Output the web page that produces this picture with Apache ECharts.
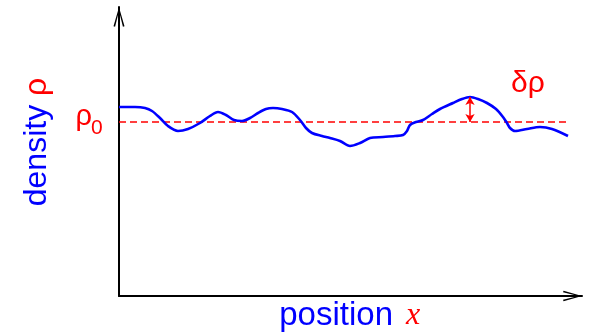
<!DOCTYPE html>
<html>
<head>
<meta charset="utf-8">
<script src="https://cdn.jsdelivr.net/npm/echarts@6/dist/echarts.min.js"></script>
<style>html,body{margin:0;padding:0;background:#fff}#c{width:590px;height:332px}</style>
</head>
<body>
<div id="c"></div>
<script>
// position values (x) and density values (y) (arbitrary units)
var positions = [0,16,26,33,41,49,59,69,81,91,99,107,115,123,131,139,147,154,163,173,181,187,193,203,211,221,231,241,251,264,276,284,288,291,297,304,313,321,334,343,351,359,368,377,384,388,391,396,408,421,433,449];
var density   = [189,189,188,185,178,170,165,167,173,180,184,181,176,175,178,183,187,188,187,184,176,168,163,160,158,155,150,153,158,159,160,161,165,171,174,176,182,187,193,197,199,197,193,187,179,173,168,165,167,169,167,160];
var rho0 = 174;          // reference density level
var refStart = 0, refEnd = 449;
var deltaX = 351;        // where the fluctuation arrow is drawn
var deltaTop = 199;
var xMax = 463, yMax = 289;

var chevron = 'path://M5,0 L10.6,19.4 L9.0,20 L5,4 L1.0,20 L-0.6,19.4 Z';

var chart = echarts.init(document.getElementById('c'));
chart.setOption({
  animation: false,
  grid: {left: 119, right: 8, top: 7, bottom: 36},
  xAxis: {
    type: 'value', min: 0, max: xMax,
    axisLine: {show: true, lineStyle: {color: '#000', width: 2}, symbol: ['none', chevron], symbolSize: [11, 19], symbolOffset: [0, -9.5]},
    axisTick: {show: false}, axisLabel: {show: false}, splitLine: {show: false}
  },
  yAxis: {
    type: 'value', min: 0, max: yMax,
    axisLine: {show: true, lineStyle: {color: '#000', width: 2}, symbol: ['none', chevron], symbolSize: [11, 20], symbolOffset: [0, -10]},
    axisTick: {show: false}, axisLabel: {show: false}, splitLine: {show: false}
  },
  series: [
    {
      type: 'line', silent: true, symbol: 'none',
      data: [[refStart, rho0], [refEnd, rho0]],
      lineStyle: {color: '#ff0000', width: 1.5, type: [7, 4]},
      markLine: {
        silent: true, symbol: ['arrow', 'arrow'], symbolSize: [7, 8],
        label: {show: false},
        lineStyle: {color: '#ff0000', width: 1.5, type: 'solid'},
        data: [[{coord: [deltaX, deltaTop]}, {coord: [deltaX, rho0]}]]
      }
    },
    {
      type: 'line', silent: true, symbol: 'none', smooth: 0.3,
      data: positions.map(function (x, i) { return [x, density[i]]; }),
      lineStyle: {color: '#0000ff', width: 2.6}
    }
  ],
  graphic: [
    {type: 'text', x: 37, y: 142, rotation: Math.PI / 2,
      style: {text: '{a|density\u00a0}{b|ρ}', align: 'center', verticalAlign: 'middle',
        rich: {a: {fill: '#0000ff', font: '32px "Liberation Sans", Arial, sans-serif'},
               b: {fill: '#ff0000', font: '32px "Liberation Sans", Arial, sans-serif'}}}},
    {type: 'text', x: 92, y: 117, style: {text: 'ρ', fill: '#ff0000', font: '29px "Liberation Sans", Arial, sans-serif', align: 'right', verticalAlign: 'middle'}},
    {type: 'text', x: 91, y: 128, style: {text: '0', fill: '#ff0000', font: '21px "Liberation Sans", Arial, sans-serif', align: 'left', verticalAlign: 'middle'}},
    {type: 'text', x: 528, y: 84, style: {text: 'δρ', fill: '#ff0000', font: '30px "Liberation Sans", Arial, sans-serif', align: 'center', verticalAlign: 'middle'}},
    {type: 'text', x: 393, y: 316, style: {text: 'position', fill: '#0000ff', font: '33px "Liberation Sans", Arial, sans-serif', align: 'right', verticalAlign: 'middle'}},
    {type: 'text', x: 406, y: 316, style: {text: 'x', fill: '#ff0000', font: 'italic 32px "Liberation Serif", "DejaVu Serif", serif', align: 'left', verticalAlign: 'middle'}}
  ]
});
</script>
</body>
</html>
